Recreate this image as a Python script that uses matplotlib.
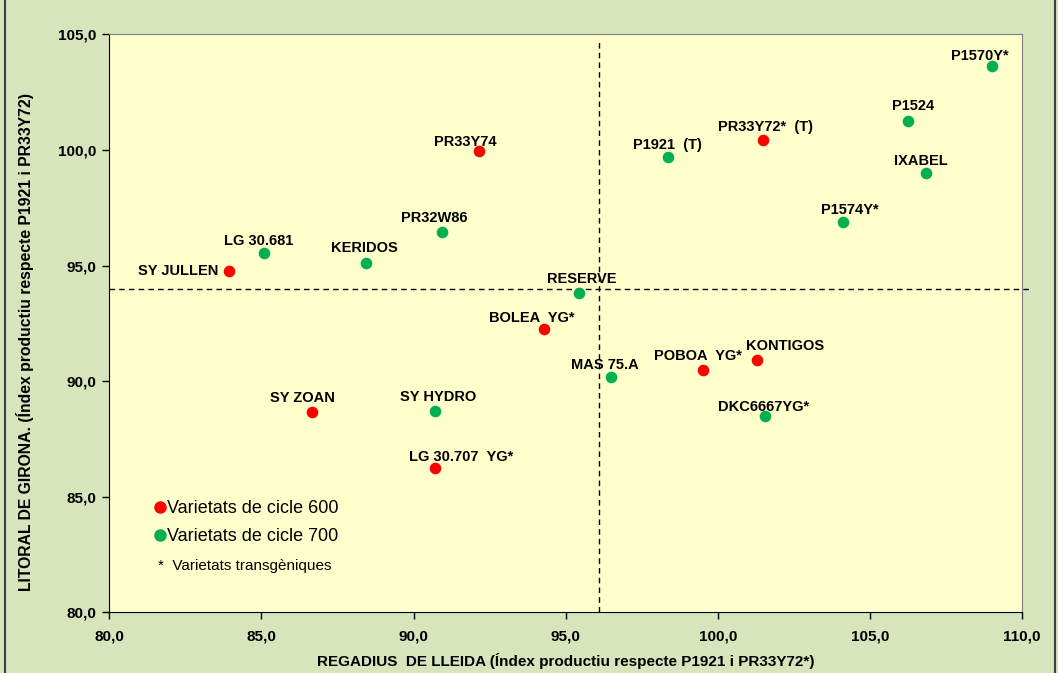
import matplotlib
matplotlib.use("Agg")
import matplotlib.pyplot as plt
from matplotlib.patches import Rectangle
from matplotlib.lines import Line2D
from matplotlib.ticker import FuncFormatter

plt.rcParams['font.family'] = ['Liberation Sans', 'DejaVu Sans']

# Data
names_600 = ["PR33Y72*  (T)", "PR33Y74", "SY JULLEN", "BOLEA  YG*", "POBOA  YG*",
             "KONTIGOS", "SY ZOAN", "LG 30.707  YG*"]
x_600 = [101.5, 92.15, 83.95, 94.3, 99.5, 101.3, 86.65, 90.7]
y_600 = [100.45, 99.95, 94.75, 92.25, 90.5, 90.9, 88.65, 86.25]

names_700 = ["P1570Y*", "P1524", "P1921  (T)", "IXABEL", "P1574Y*", "PR32W86",
             "LG 30.681", "KERIDOS", "RESERVE", "MAS 75.A", "DKC6667YG*", "SY HYDRO"]
x_700 = [109.0, 106.25, 98.35, 106.85, 104.1, 90.95, 85.1, 88.45, 95.45, 96.5, 101.55, 90.7]
y_700 = [103.65, 101.25, 99.7, 99.0, 96.9, 96.45, 95.55, 95.1, 93.8, 90.2, 88.5, 88.7]

# label offsets in pixels (dx, dy) relative to the point
offsets = {
    "P1570Y*": (-12, 10), "P1524": (5, 15), "PR33Y72*  (T)": (2, 13),
    "P1921  (T)": (0, 12), "IXABEL": (-5, 12), "P1574Y*": (7, 12),
    "PR33Y74": (-14, 9), "PR32W86": (-8, 14), "LG 30.681": (-6, 12),
    "KERIDOS": (-2, 15), "SY JULLEN": (-11, 0), "RESERVE": (2, 14),
    "BOLEA  YG*": (-13, 11), "MAS 75.A": (-6, 12), "POBOA  YG*": (-5, 14),
    "KONTIGOS": (28, 14), "DKC6667YG*": (-1, 9), "SY ZOAN": (-9, 14),
    "SY HYDRO": (3, 14), "LG 30.707  YG*": (26, 11),
}

x_ref = 96.1
y_ref = 94.0

red = "#ff0000"
green = "#00b050"

fig = plt.figure(figsize=(10.58, 6.73), dpi=100)
fig.patch.set_facecolor("#d8e4bc")
ax = fig.add_axes([0.1033, 0.0900, 0.8627, 0.8590])
ax.set_facecolor("#ffffcc")

ax.vlines(x_ref, 80, 104.8, colors="black", linestyles=(0, (4, 3)), lw=1)
ax.hlines(y_ref, 80, 110.3, colors="black", linestyles=(0, (4, 3)), lw=1, clip_on=False)

ax.scatter(x_600, y_600, s=70, color=red, zorder=3, linewidths=0)
ax.scatter(x_700, y_700, s=70, color=green, zorder=3, linewidths=0)

for names, xs, ys in [(names_600, x_600, y_600), (names_700, x_700, y_700)]:
    for n, x, y in zip(names, xs, ys):
        dx, dy = offsets[n]
        ha = "right" if n == "SY JULLEN" else "center"
        ax.annotate(n, (x, y), xytext=(dx, dy), textcoords="offset pixels",
                    ha=ha, va="center", fontsize=10.5, fontweight="bold")

ax.set_xlim(80, 110)
ax.set_ylim(80, 105)
ax.set_xticks([80, 85, 90, 95, 100, 105, 110])
ax.set_yticks([80, 85, 90, 95, 100, 105])
fmt = FuncFormatter(lambda v, p: f"{v:.1f}".replace(".", ","))
ax.xaxis.set_major_formatter(fmt)
ax.yaxis.set_major_formatter(fmt)
ax.tick_params(direction="out", length=5, width=1, labelsize=11, pad=4)
ax.tick_params(axis="x", pad=7)
for lab in ax.get_xticklabels() + ax.get_yticklabels():
    lab.set_fontweight("bold")

ax.spines["top"].set_color("#808080")
ax.spines["right"].set_color("#808080")
for s in ["left", "bottom"]:
    ax.spines[s].set_color("black")

ax.set_xlabel("REGADIUS  DE LLEIDA (Índex productiu respecte P1921 i PR33Y72*)",
              fontsize=11, fontweight="bold", labelpad=7)
ax.set_ylabel("LITORAL DE GIRONA. (Índex productiu respecte P1921 i PR33Y72)",
              fontsize=11.3, fontweight="bold")
ax.yaxis.set_label_coords(-0.083, 0.467)

handles = [Line2D([], [], marker="o", ls="", color=red, markersize=8),
           Line2D([], [], marker="o", ls="", color=green, markersize=8)]
ax.legend(handles, ["Varietats de cicle 600", "Varietats de cicle 700"],
          loc="center left", bbox_to_anchor=(0.05, 0.155), frameon=False,
          fontsize=13, handlelength=0.6, handletextpad=0.05, labelspacing=0.6,
          borderpad=0, borderaxespad=0)
ax.text(0.053, 0.080, "*  Varietats transgèniques", transform=ax.transAxes,
        fontsize=11, va="center")

fig.add_artist(Rectangle((0.005, -0.01), 0.992, 1.02, transform=fig.transFigure,
                         fill=False, edgecolor="#404040", lw=1.5))

fig.savefig("out.png", dpi=100, facecolor=fig.get_facecolor())
